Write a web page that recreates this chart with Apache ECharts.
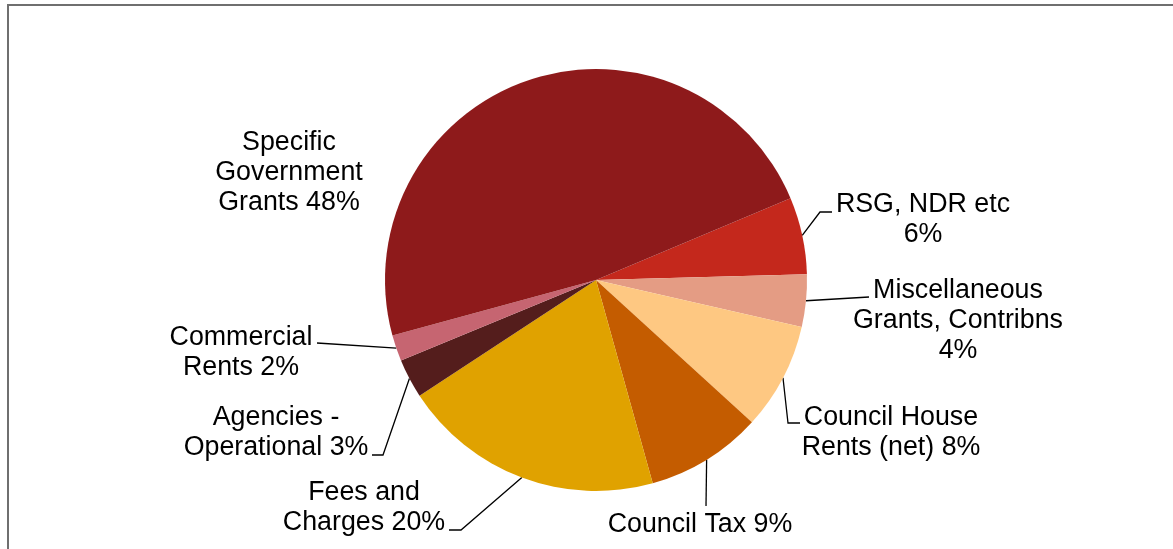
<!DOCTYPE html>
<html>
<head>
<meta charset="utf-8">
<script src="https://cdn.jsdelivr.net/npm/echarts@6/dist/echarts.min.js"></script>
<style>
  html, body { margin: 0; padding: 0; background: #fff; }
  #chart { width: 1173px; height: 549px; }
</style>
</head>
<body>
<div id="chart"></div>
<script>
// ---- data ----
const categories = [
  'RSG, NDR etc',
  'Miscellaneous Grants, Contribns',
  'Council House Rents (net)',
  'Council Tax',
  'Fees and Charges',
  'Agencies - Operational',
  'Commercial Rents',
  'Specific Government Grants'
];
const shares = [5.9, 4.0, 8.2, 8.9, 20.1, 3.0, 2.0, 47.9];
const labelTexts = [
  'RSG, NDR etc\n6%',
  'Miscellaneous\nGrants, Contribns\n4%',
  'Council House\nRents (net) 8%',
  'Council Tax 9%',
  'Fees and\nCharges 20%',
  'Agencies -\nOperational 3%',
  'Commercial\nRents 2%',
  'Specific\nGovernment\nGrants 48%'
];
const colors = ['#C4281C', '#E49C84', '#FEC882', '#C45C00', '#E0A200', '#541D1C', '#C66571', '#8E1A1B'];

// ---- label placement (layout only) ----
const labelPlace = [
  { x: 923, y: 220, bend: [820, 212], end: [832, 212] },
  { x: 958, y: 321, bend: [869, 297], end: [869, 297] },
  { x: 891, y: 433, bend: [788, 423], end: [800, 423] },
  { x: 700, y: 525, bend: [706, 506], end: [706, 506] },
  { x: 364, y: 508, bend: [461, 530], end: [449, 530] },
  { x: 276, y: 433, bend: [383, 455], end: [372, 455] },
  { x: 241, y: 353, bend: [317, 343], end: [317, 343] },
  { x: 289, y: 173, bend: null, end: null }
];

const data = categories.map((name, i) => ({
  name: name,
  value: shares[i],
  itemStyle: { color: colors[i] },
  labelLine: { show: labelPlace[i].bend !== null }
}));

const chart = echarts.init(document.getElementById('chart'), null, { renderer: 'canvas' });
chart.setOption({
  animation: false,
  backgroundColor: '#ffffff',
  graphic: [{
    type: 'polyline',
    silent: true,
    shape: { points: [[8, 600], [8, 5], [1200, 5]] },
    style: { stroke: '#6f6f6f', lineWidth: 2, fill: null }
  }],
  series: [{
    type: 'pie',
    center: [596, 280],
    radius: 211,
    startAngle: 22.8,
    clockwise: true,
    silent: true,
    avoidLabelOverlap: false,
    data: data,
    itemStyle: { borderWidth: 0 },
    label: {
      show: true,
      position: 'outside',
      formatter: p => labelTexts[p.dataIndex],
      color: '#000',
      fontFamily: 'Arial, "Liberation Sans", sans-serif',
      fontSize: 26.8,
      lineHeight: 30,
      align: 'center'
    },
    labelLine: {
      show: true,
      length: 10,
      length2: 10,
      smooth: false,
      lineStyle: { color: '#000', width: 1.3 }
    },
    labelLayout: function (params) {
      const p = labelPlace[params.dataIndex];
      const out = { x: p.x, y: p.y, align: 'center', verticalAlign: 'middle', hideOverlap: false };
      if (p.bend && params.labelLinePoints) {
        const start = params.labelLinePoints[0];
        out.labelLinePoints = [start, p.bend, p.end];
      }
      return out;
    }
  }]
});
</script>
</body>
</html>
